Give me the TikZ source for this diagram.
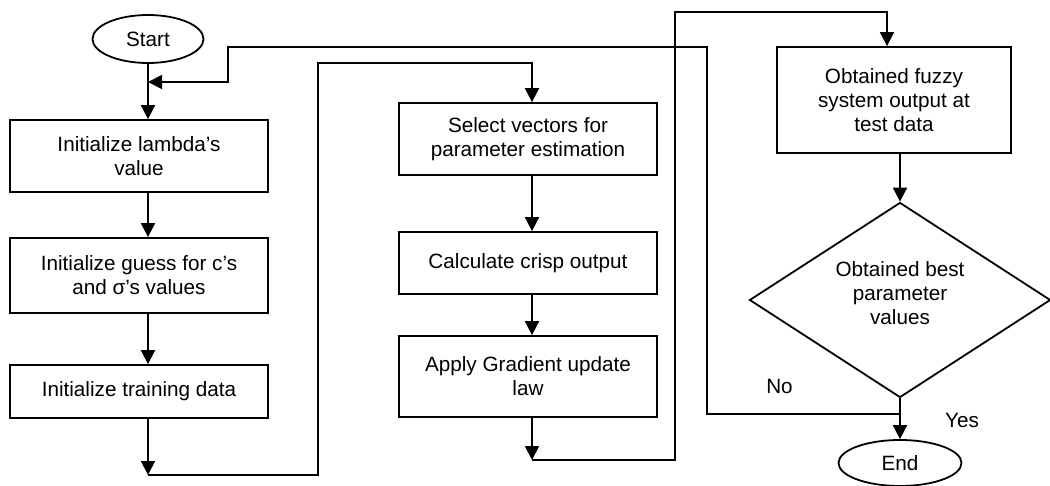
\documentclass[tikz,border=0pt]{standalone}
\usepackage{fontspec}
\setmainfont{Liberation Sans}
\usetikzlibrary{shapes.geometric,arrows.meta}
\newcommand\flowfont{\fontsize{20.7}{24}\selectfont}
\begin{document}
\begin{tikzpicture}[x=1pt,y=-1pt,line width=1.8pt,
  box/.style={draw,rectangle,align=center,inner sep=0pt,font=\flowfont},
  term/.style={draw,ellipse,inner sep=0pt,font=\flowfont},
  decision/.style={draw,diamond,align=center,inner sep=0pt,font=\flowfont},
  lbl/.style={font=\flowfont,inner sep=0pt},
  arr/.style={-{Triangle[length=14pt,width=14pt]}}]
\useasboundingbox (0,0) rectangle (1050,486);

% terminals
\node[term,minimum width=111pt,minimum height=48pt] (start) at (148,39) {Start};
\node[term,minimum width=123pt,minimum height=46pt] (end) at (900,463) {End};

% left column
\node[box,minimum width=258pt,minimum height=72pt] (b1) at (139,156) {Initialize lambda’s\\value};
\node[box,minimum width=258pt,minimum height=75pt] (b2) at (139,275.5) {Initialize guess for c’s\\and σ’s values};
\node[box,minimum width=258pt,minimum height=53pt] (b3) at (139,391.5) {Initialize training data};

% middle column
\node[box,minimum width=258pt,minimum height=72pt] (sel) at (528,139) {Select vectors for\\parameter estimation};
\node[box,minimum width=258pt,minimum height=62pt] (calc) at (528,263) {Calculate crisp output};
\node[box,minimum width=258pt,minimum height=81pt] (apply) at (528,376.5) {Apply Gradient update\\law};

% right column
\node[box,minimum width=234pt,minimum height=106pt] (fuzzy) at (894,100) {Obtained fuzzy\\system output at\\test data};
\node[decision,minimum width=301pt,minimum height=195pt,aspect=1.54,
  label={[lbl,align=center,yshift=7pt]center:Obtained best\\parameter\\values}] (dec) at (900,300) {};

% labels
\node[lbl] (no) at (779.5,386) {No};
\node[lbl] (yes) at (962,420) {Yes};

% routing points
\coordinate (p1) at (148,475);
\coordinate (p2) at (318,475);
\coordinate (p3) at (318,63);
\coordinate (p4) at (532,63);
\coordinate (q1) at (532,460);
\coordinate (q2) at (675,460);
\coordinate (q3) at (675,12);
\coordinate (q4) at (887,12);
\coordinate (r0) at (900,414);
\coordinate (r1) at (707,414);
\coordinate (r2) at (707,47);
\coordinate (r3) at (228,47);
\coordinate (r4) at (228,82);

% left column flow
\draw[arr] (start.south) -- (b1.north -| start.south);
\draw[arr] (b1.south -| start) -- (b2.north -| start);
\draw[arr] (b2.south -| start) -- (b3.north -| start);
\draw[arr] (b3.south -| start) -- (p1);
\draw[arr] (p1) -- (p2) -- (p3) -- (p4) -- (sel.north -| p4);

% middle column flow
\draw[arr] (sel.south -| p4) -- (calc.north -| p4);
\draw[arr] (calc.south -| p4) -- (apply.north -| p4);
\draw[arr] (apply.south -| p4) -- (q1);
\draw[arr] (q1) -- (q2) -- (q3) -- (q4) -- (fuzzy.north -| q4);

% right column flow
\draw[arr] (fuzzy.south -| dec.north) -- (dec.north);
\draw[arr] (dec.south) -- (end.north);

% "No" loop back to the start
\draw[arr] (r0) -- (r1) -- (r2) -- (r3) -- (r4) -- (r4 -| start);
\end{tikzpicture}
\end{document}
